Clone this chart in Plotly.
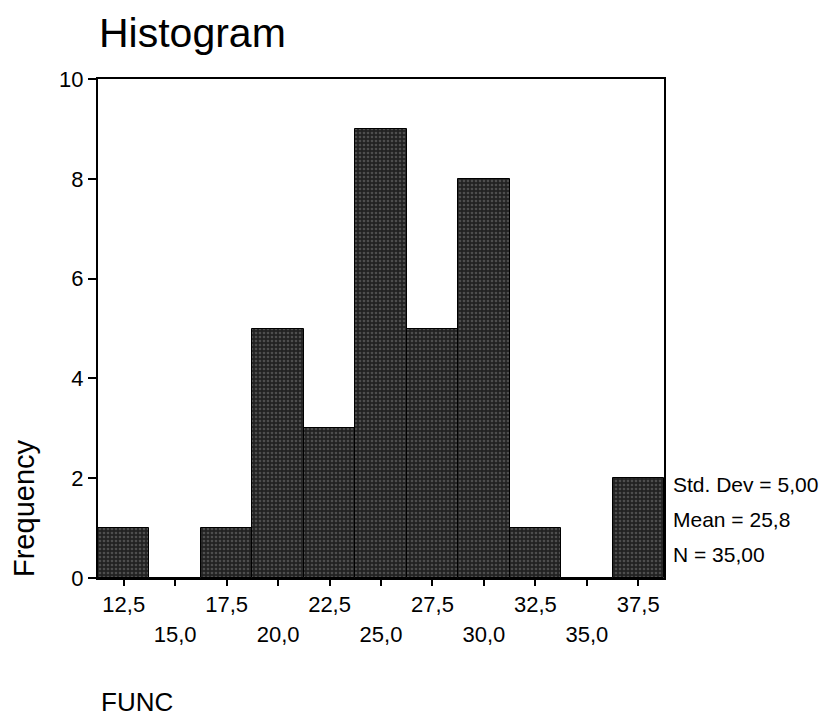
import plotly.graph_objects as go

# ---- data ----
bin_centers = [12.5, 15.0, 17.5, 20.0, 22.5, 25.0, 27.5, 30.0, 32.5, 35.0, 37.5]
counts = [1, 0, 1, 5, 3, 9, 5, 8, 1, 0, 2]
bin_width = 2.5
row1_vals = [12.5, 17.5, 22.5, 27.5, 32.5, 37.5]
row1_text = ["12,5", "17,5", "22,5", "27,5", "32,5", "37,5"]
row2_vals = [15.0, 20.0, 25.0, 30.0, 35.0]
row2_text = ["15,0", "20,0", "25,0", "30,0", "35,0"]
y_ticks = [0, 2, 4, 6, 8, 10]
stats_lines = ["Std. Dev = 5,00", "Mean = 25,8", "N = 35,00"]

FONT = "Liberation Sans, Arial, sans-serif"

W, H = 833, 719
L, R, T, B = 98, 169, 79, 141
pw = W - L - R
ph = H - T - B

fig = go.Figure()
fig.add_trace(go.Bar(
    x=bin_centers, y=counts, width=bin_width,
    marker=dict(color="#262626",
                line=dict(color="black", width=1),
                pattern=dict(shape=".", fgcolor="#7a7a7a", bgcolor="#222222",
                             size=4, solidity=0.35)),
    showlegend=False, hoverinfo="x+y"))
# invisible trace for the second tick-label row axis
fig.add_trace(go.Scatter(x=row2_vals, y=[0] * len(row2_vals), mode="none",
                         xaxis="x2", showlegend=False, hoverinfo="skip"))

ticktext = [row1_text[row1_vals.index(c)] if c in row1_vals else "" for c in bin_centers]

fig.update_layout(
    width=W, height=H,
    margin=dict(l=L, r=R, t=T, b=B, autoexpand=False),
    paper_bgcolor="white", plot_bgcolor="white",
    font=dict(family=FONT, color="black"),
    bargap=0,
    xaxis=dict(range=[11.25, 38.75], showgrid=False, zeroline=False, automargin=False,
               showline=True, mirror=True, linecolor="black", linewidth=2,
               ticks="outside", ticklen=6, tickwidth=2, tickcolor="black",
               tickvals=bin_centers, ticktext=ticktext,
               tickfont=dict(size=22), ticklabelstandoff=0),
    xaxis2=dict(range=[11.25, 38.75], overlaying="x", side="bottom", anchor="y",
                showgrid=False, zeroline=False, showline=False, ticks="", automargin=False,
                tickvals=row2_vals, ticktext=row2_text,
                tickfont=dict(size=22), ticklabelstandoff=41),
    yaxis=dict(range=[0, 10], showgrid=False, zeroline=False, automargin=False,
               showline=True, mirror=True, linecolor="black", linewidth=2,
               ticks="outside", ticklen=8, tickwidth=2, tickcolor="black",
               tickvals=y_ticks, tickfont=dict(size=22)),
)

ann = []
ann.append(dict(text="Histogram", xref="paper", yref="paper", x=-0.002, y=1 + (T - 33) / ph,
                xanchor="left", yanchor="middle", showarrow=False,
                font=dict(size=41, family=FONT)))
ann.append(dict(text="Frequency", xref="paper", yref="paper", x=(24 - L) / pw,
                y=(578 - 508) / ph, xanchor="center", yanchor="middle",
                textangle=-90, showarrow=False, font=dict(size=29, family=FONT)))
ann.append(dict(text="FUNC", xref="paper", yref="paper", x=0.002, y=-(702 - 578) / ph,
                xanchor="left", yanchor="middle", showarrow=False,
                font=dict(size=26, family=FONT)))
for i, s in enumerate(stats_lines):
    ann.append(dict(text=s, xref="paper", yref="paper", x=(671 - L) / pw,
                    y=(578 - (484 + 35 * i)) / ph, xanchor="left", yanchor="middle",
                    showarrow=False, font=dict(size=21, family=FONT)))
fig.update_layout(annotations=ann)

fig.write_html("out.html", config={"displayModeBar": False},
               post_script="document.body.style.margin='0';")
